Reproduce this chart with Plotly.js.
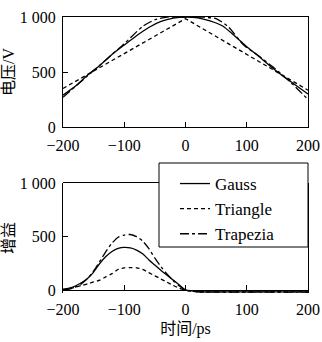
<!DOCTYPE html>
<html>
<head>
<meta charset="utf-8">
<script src="https://cdn.plot.ly/plotly-3.0.1.min.js"></script>
<style>
  html, body { margin: 0; padding: 0; background: #fff; }
  #chart { width: 322px; height: 342px; }
</style>
</head>
<body>
<div id="chart"></div>
<script>
// ---- Data: voltage (top panel) ----
const timeVoltGauss = [-200,-180,-160,-140,-120,-100,-80,-60,-40,-20,0,20,40,60,80,100,120,140,160,180,200];
const voltGauss     = [290,370,470,560,660,745,830,905,960,990,1000,993,965,920,830,730,640,545,460,380,300];
const timeVoltTriangle = [-200,0,200];
const voltTriangle     = [350,985,335];
const timeVoltTrapezia = [-200,-160,-100,-70,-50,-30,0,30,50,70,95,115,143,172,200];
const voltTrapezia     = [270,465,757,915,975,998,1000,998,985,910,745,665,545,405,250];

// ---- Data: gain (bottom panel) ----
const timeGain = [-200,-190,-180,-170,-160,-150,-140,-130,-120,-110,-100,-90,-80,-70,-60,-50,-40,-30,-20,-10,0,10,20,60,100,150,200];
const gainGauss    = [10,20,40,70,110,170,250,315,362,390,400,395,375,340,285,235,185,140,95,50,5,-5,-12,-14,-14,-14,-14];
const gainTriangle = [5,15,30,45,60,78,95,125,155,195,210,212,210,195,165,135,105,75,45,20,0,-8,-15,-15,-15,-15,-15];
const gainTrapezia = [5,12,30,60,110,180,270,360,440,495,515,520,500,460,390,300,220,150,90,40,0,-8,-15,-16,-16,-16,-16];

// ---- Tick labels ----
const xTickVals = [-200,-100,0,100,200];
const xTickText = ['\u2212200','\u2212100','0','100','200'];
const yTickVals = [0,500,1000];
const yTickText = ['0','500','1 000'];

const seriesNames = ['Gauss','Triangle','Trapezia'];

const serif = 'Liberation Serif, Times New Roman, serif';
const cjk = 'Liberation Serif, Noto Sans CJK SC, serif';
const dashes = ['solid', '4px,3px', '9px,3px,3px,3px'];
const shapesLine = ['spline', 'linear', 'spline'];
const lw = 1.3;

const traces = [];
// top panel
[[timeVoltGauss, voltGauss],[timeVoltTriangle, voltTriangle],[timeVoltTrapezia, voltTrapezia]].forEach((d,i)=>{
  traces.push({x:d[0], y:d[1], xaxis:'x', yaxis:'y', type:'scatter', mode:'lines',
    name: seriesNames[i], legendgroup: seriesNames[i], showlegend:false,
    line:{color:'#000', width:lw, dash:dashes[i], shape:shapesLine[i], smoothing:0.6}});
});
// bottom panel
[gainGauss, gainTriangle, gainTrapezia].forEach((g,i)=>{
  traces.push({x:timeGain, y:g, xaxis:'x2', yaxis:'y2', type:'scatter', mode:'lines',
    name: seriesNames[i], legendgroup: seriesNames[i], showlegend:true,
    line:{color:'#000', width:lw, dash:dashes[i], shape:'spline', smoothing:0.6}});
});

const tickFont = {family: serif, size: 16, color:'#000'};
const axisCommon = {
  showgrid:false, zeroline:false, showline:true, linecolor:'#000', linewidth:1,
  ticks:'inside', ticklen:5, tickwidth:1, tickcolor:'#000', tickfont:tickFont,
  fixedrange:true
};

const gainMin = -25;
const bottomDomain = [0, 110/276];
const zeroPos = bottomDomain[0] + (0 - gainMin)/(1000 - gainMin)*(bottomDomain[1]-bottomDomain[0]);

const layout = {
  width:322, height:342,
  margin:{l:63, r:14, t:17, b:49},
  paper_bgcolor:'#fff', plot_bgcolor:'#fff',
  showlegend:true,
  xaxis: Object.assign({}, axisCommon, {domain:[0,1], anchor:'y', range:[-200,200],
    tickmode:'array', tickvals:xTickVals, ticktext:xTickText, mirror:true, ticklabelstandoff:4}),
  yaxis: Object.assign({}, axisCommon, {domain:[166/276,1], anchor:'x', range:[0,1000],
    tickmode:'array', tickvals:yTickVals, ticktext:yTickText, mirror:true, ticklabelstandoff:3,
    title:{text:'电压/V', font:{family:cjk, size:16, color:'#000'}, standoff:4}}),
  xaxis2: Object.assign({}, axisCommon, {domain:[0,1], anchor:'free', position:zeroPos, range:[-200,200],
    tickmode:'array', tickvals:xTickVals, ticktext:xTickText, ticklen:5, ticklabelstandoff:4,
    title:{text:'时间/ps', font:{family:cjk, size:16, color:'#000'}, standoff:6}}),
  yaxis2: Object.assign({}, axisCommon, {domain:bottomDomain, anchor:'x2', range:[gainMin,1000],
    tickmode:'array', tickvals:yTickVals, ticktext:yTickText, mirror:true, ticklabelstandoff:3,
    title:{text:'增益', font:{family:cjk, size:16, color:'#000'}, standoff:4}}),
  shapes:[
    {type:'line', xref:'x2 domain', yref:'paper', x0:0, x1:1,
     y0:(110 + 0.5)/276, y1:(110 + 0.5)/276,
     line:{color:'#000', width:1}},
    {type:'rect', xref:'paper', yref:'paper', x0:96/245, x1:1, y0:46/276, y1:130/276,
     fillcolor:'#fff', line:{color:'#000', width:1}, layer:'above'}
  ],
  legend:{x:112/245, xanchor:'left', y:127/276, yanchor:'top',
    bgcolor:'rgba(0,0,0,0)', borderwidth:0, font:{family:serif, size:17, color:'#000'},
    tracegroupgap:0, itemwidth:30}
};

Plotly.newPlot('chart', traces, layout, {staticPlot:true, displayModeBar:false});
</script>
</body>
</html>
